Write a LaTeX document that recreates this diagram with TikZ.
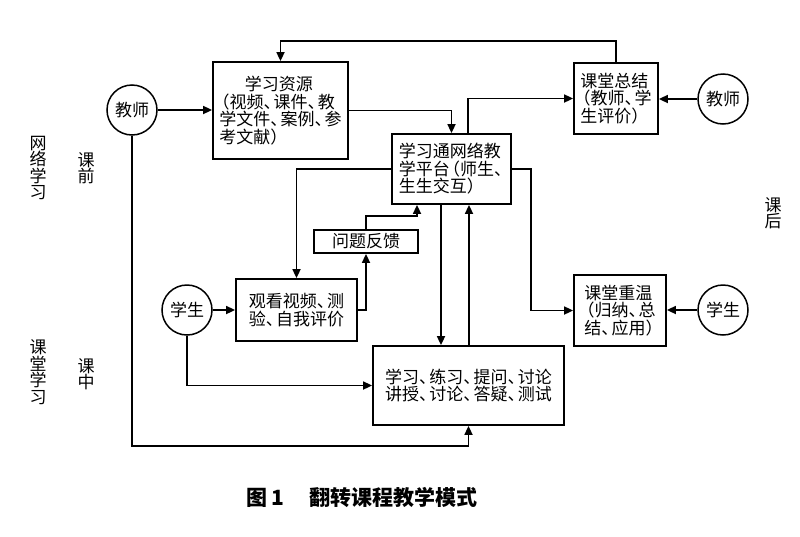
\documentclass[tikz,border=0pt]{standalone}
\usepackage{fontspec}
\setmainfont{Noto Sans CJK SC}
\usetikzlibrary{arrows.meta,calc}
\newcommand\dn{\makebox[0.6em][l]{、}}
\newcommand\lp{\makebox[0.6em][r]{（}}
\newcommand\rp{\makebox[0.6em][l]{）}}
\tikzset{
 box/.style={draw, line width=1.8pt, inner sep=2pt, font=\fontsize{17}{17.5}\selectfont, align=left},
 circ/.style={draw, circle, line width=1.5pt, minimum size=50pt, inner sep=0pt, font=\fontsize{17}{17.5}\selectfont},
 arr/.style={line width=1.7pt, -{Triangle[length=9pt,width=8pt]}},
 side/.style={font=\fontsize{17}{16.5}\selectfont, align=center, inner sep=0pt},
}
\begin{document}
\begin{tikzpicture}[x=1pt,y=-1pt]
\useasboundingbox (0,0) rectangle (800,536);
\fill[white] (0,0) rectangle (800,536);

% nodes
\node[box, minimum width=135pt, minimum height=97pt] (res) at (280.5,110.5)
  {\hspace*{1.5em}学习资源\\\lp 视频\dn 课件\dn 教\\学文件\dn 案例\dn 参\\考文献\rp};
\node[circ] (t1) at (132,110) {教师};
\node[box, minimum width=119pt, minimum height=70pt] (plat) at (451.5,169)
  {学习通网络教\\学平台\lp 师生\dn\\生生交互\rp};
\node[box, minimum width=84pt, minimum height=71pt] (sum) at (616,98.5)
  {课堂总结\\\lp 教师\dn 学\\生评价\rp};
\node[circ] (t2) at (723,99) {教师};
\node[box, minimum width=104pt, minimum height=23pt, inner sep=0pt] (fb) at (366,241.5) {问题反馈};
\node[box, minimum width=121pt, minimum height=62pt] (watch) at (296.5,310)
  {观看视频\dn 测\\验\dn 自我评价};
\node[circ] (s1) at (187,310) {学生};
\node[box, minimum width=191pt, minimum height=79pt] (cls) at (468.5,385.5)
  {学习\dn 练习\dn 提问\dn 讨论\\讲授\dn 讨论\dn 答疑\dn 测试};
\node[box, minimum width=92pt, minimum height=71pt] (rev) at (620,310.5)
  {课堂重温\\\lp 归纳\dn 总\\结\dn 应用\rp};
\node[circ] (s2) at (723,310) {学生};

% side labels
\node[side] (l1) at (38,168) {网\\络\\学\\习};
\node[side] (l2) at (86,168) {课\\前};
\node[side] (l3) at (38,372) {课\\堂\\学\\习};
\node[side] (l4) at (86,374) {课\\中};
\node[side] (l5) at (773,213) {课\\后};

% caption
\node[font=\fontsize{21}{22}\selectfont\bfseries, inner sep=0pt] (cap) at (362,497) {图 1\hspace{1.2em}翻转课程教学模式};

% connectors
\draw[arr] (sum.north) -- ++(0,-21) -| (res.north);
\draw[arr] (t1.east) -- (t1.east -| res.west);
\draw[arr] (res.east) -| (plat.north);
\draw[arr] ([xshift=16.5pt]plat.north) |- (sum.west);
\draw[arr] (t2.west) -- (t2.west -| sum.east);
\draw[arr] (plat.east) -- ++(19,0) |- (rev.west);
\draw[arr] (s2.west) -- (s2.west -| rev.east);
\draw[arr] (plat.west) -| (watch.north);
\draw[arr] (s1.east) -- (s1.east -| watch.west);
\draw[arr] (watch.east) -| (fb.south);
\draw[arr] (fb.north) -- ++(0,-13) -| ([xshift=-34.5pt]plat.south);
\draw[arr] ([xshift=-10.5pt]plat.south) -- ([xshift=-27.5pt]cls.north);
\draw[arr] ([xshift=0.5pt]cls.north) -- ([xshift=17.5pt]plat.south);
\draw[arr] (s1.south) |- (cls.west);
\draw[arr] (t1.south) -- ++(0,310) -| (cls.south);
\end{tikzpicture}
\end{document}
